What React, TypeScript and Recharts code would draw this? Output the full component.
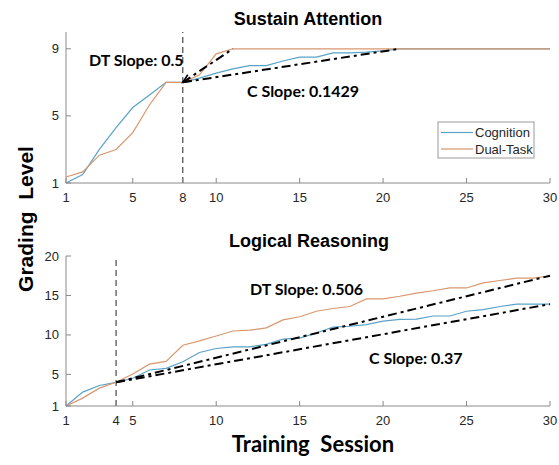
import React from "react";
import { LineChart, Line, XAxis, YAxis, ReferenceLine } from "recharts";

// training sessions 1..30
const sessions = [
  1, 2, 3, 4, 5, 6, 7, 8, 9, 10, 11, 12, 13, 14, 15, 16, 17, 18, 19, 20, 21, 22, 23, 24, 25, 26, 27, 28, 29, 30,
];

// Sustain Attention
const saCognition = [
  1.0, 1.5, 3.0, 4.3, 5.5, 6.25, 7.0, 7.0, 7.25, 7.55, 7.8, 8.0, 8.0, 8.27, 8.5, 8.5, 8.75, 8.75, 8.8, 8.88, 9, 9, 9,
  9, 9, 9, 9, 9, 9, 9,
];
const saDualTask = [
  1.36, 1.66, 2.66, 3.0, 4.0, 5.65, 7.0, 7.0, 7.45, 8.7, 9, 9, 9, 9, 9, 9, 9, 9, 9, 9, 9, 9, 9, 9, 9, 9, 9, 9, 9, 9,
];
const saDtFit = [
  { session: 8, fit: 7 },
  { session: 11, fit: 9 },
];
const saCFit = [
  { session: 8, fit: 7 },
  { session: 21, fit: 9 },
];

// Logical Reasoning
const lrCognition = [
  1.0, 2.76, 3.6, 4.0, 4.52, 5.56, 5.77, 6.6, 7.78, 8.28, 8.5, 8.5, 8.8, 9.46, 9.6, 10.25, 11.0, 11.1, 11.3, 11.76,
  11.97, 12.0, 12.4, 12.4, 13.0, 13.2, 13.6, 13.9, 13.9, 13.9,
];
const lrDualTask = [
  1.0, 2.0, 3.26, 4.0, 5.06, 6.3, 6.65, 8.7, 9.25, 9.87, 10.5, 10.6, 10.9, 11.9, 12.3, 13.0, 13.35, 13.6, 14.56,
  14.56, 14.9, 15.3, 15.6, 15.95, 15.95, 16.6, 16.9, 17.2, 17.2, 17.5,
];
const lrDtFit = [
  { session: 4, fit: 4 },
  { session: 30, fit: 17.5 },
];
const lrCFit = [
  { session: 4, fit: 4 },
  { session: 30, fit: 13.9 },
];

const saXTicks = [1, 5, 8, 10, 15, 20, 25, 30];
const lrXTicks = [1, 4, 5, 10, 15, 20, 25, 30];
const saYTicks = [1, 5, 9];
const lrYTicks = [1, 5, 10, 15, 20];

const seriesNames = ["Cognition", "Dual-Task"];
const seriesColors = ["#5aa2c8", "#d9976f"];

const axisColor = "#8a8a8a";
const textColor = "#262626";
const tickFont = "'Liberation Sans', Arial, sans-serif";
const calibri = "Lato, 'Noto Sans', sans-serif";

const BottomTick = (p: any) => (
  <g>
    <line x1={p.x} x2={p.x} y1={p.y} y2={p.y - 5} stroke={axisColor} />
    <text x={p.x} y={p.y + 14} textAnchor="middle" dominantBaseline="central" fontSize={13} fontFamily={tickFont} fill={textColor}>
      {p.payload.value}
    </text>
  </g>
);
const TopTick = (p: any) => <line x1={p.x} x2={p.x} y1={p.y} y2={p.y + 5} stroke={axisColor} />;
const LeftTick = (p: any) => (
  <g>
    <line x1={p.x} x2={p.x + 5} y1={p.y} y2={p.y} stroke={axisColor} />
    <text x={p.x - 7} y={p.y} textAnchor="end" dominantBaseline="central" fontSize={13} fontFamily={tickFont} fill={textColor}>
      {p.payload.value}
    </text>
  </g>
);
const RightTick = (p: any) => <line x1={p.x} x2={p.x - 5} y1={p.y} y2={p.y} stroke={axisColor} />;

// arrow head at the start of a fit line, pointing at the break point
const ArrowDot = (p: any) => {
  const pts = p.points;
  if (p.index !== 0 || !pts || pts.length < 2) return <g key={p.key} />;
  const ang = Math.atan2(pts[1].y - p.cy, pts[1].x - p.cx);
  const len = 9;
  const s = 0.4;
  const d = `M${p.cx + len * Math.cos(ang + s)},${p.cy + len * Math.sin(ang + s)} L${p.cx},${p.cy} L${
    p.cx + len * Math.cos(ang - s)
  },${p.cy + len * Math.sin(ang - s)}`;
  return <path key={p.key} d={d} stroke="#000" strokeWidth={1.6} fill="none" />;
};

type PanelProps = {
  top: number;
  height: number;
  margin: { top: number; right: number; bottom: number; left: number };
  cognition: number[];
  dualTask: number[];
  dtFit: { session: number; fit: number }[];
  cFit: { session: number; fit: number }[];
  xTicks: number[];
  yTicks: number[];
  yDomain: [number, number];
  markX: number;
  arrow: boolean;
};

const Panel = ({ top, height, margin, cognition, dualTask, dtFit, cFit, xTicks, yTicks, yDomain, markX, arrow }: PanelProps) => {
  const data = sessions.map((s, i) => ({ session: s, cognition: cognition[i], dualTask: dualTask[i] }));
  return (
    <div style={{ position: "absolute", left: 0, top }}>
      <LineChart width={559} height={height} data={data} margin={margin}>
        <XAxis
          dataKey="session"
          type="number"
          domain={[1, 30]}
          ticks={xTicks}
          interval={0}
          tickSize={0}
          tickMargin={0}
          tickLine={false}
          stroke={axisColor}
          height={20}
          tick={BottomTick}
        />
        <XAxis
          xAxisId="top"
          orientation="top"
          dataKey="session"
          type="number"
          domain={[1, 30]}
          ticks={xTicks}
          interval={0}
          tickSize={0}
          tickMargin={0}
          tickLine={false}
          stroke={axisColor}
          height={0}
          tick={TopTick}
        />
        <YAxis
          type="number"
          domain={yDomain}
          ticks={yTicks}
          interval={0}
          tickSize={0}
          tickMargin={0}
          tickLine={false}
          stroke={axisColor}
          width={30}
          tick={LeftTick}
        />
        <YAxis
          yAxisId="right"
          orientation="right"
          type="number"
          domain={yDomain}
          ticks={yTicks}
          interval={0}
          tickSize={0}
          tickMargin={0}
          tickLine={false}
          stroke={axisColor}
          width={0}
          tick={RightTick}
        />
        <ReferenceLine x={markX} stroke="#222" strokeWidth={1} strokeDasharray="6 4" />
        <Line dataKey="cognition" name={seriesNames[0]} stroke={seriesColors[0]} strokeWidth={1.2} dot={false} isAnimationActive={false} />
        <Line dataKey="dualTask" name={seriesNames[1]} stroke={seriesColors[1]} strokeWidth={1.2} dot={false} isAnimationActive={false} />
        <Line
          data={dtFit}
          dataKey="fit"
          stroke="#000"
          strokeWidth={2}
          strokeDasharray="9 4 3 4"
          dot={arrow ? ArrowDot : false}
          isAnimationActive={false}
        />
        <Line data={cFit} dataKey="fit" stroke="#000" strokeWidth={2} strokeDasharray="9 4 3 4" dot={false} isAnimationActive={false} />
      </LineChart>
    </div>
  );
};

export default function App() {
  return (
    <div style={{ position: "absolute", left: 0, top: 0, width: 559, height: 465, background: "#fff", overflow: "hidden" }}>
      <Panel
        top={0}
        height={210}
        margin={{ top: 32, right: 9, bottom: 7, left: 36 }}
        cognition={saCognition}
        dualTask={saDualTask}
        dtFit={saDtFit}
        cFit={saCFit}
        xTicks={saXTicks}
        yTicks={saYTicks}
        yDomain={[1, 10]}
        markX={8}
        arrow={true}
      />
      <Panel
        top={220}
        height={225}
        margin={{ top: 36, right: 9, bottom: 19, left: 36 }}
        cognition={lrCognition}
        dualTask={lrDualTask}
        dtFit={lrDtFit}
        cFit={lrCFit}
        xTicks={lrXTicks}
        yTicks={lrYTicks}
        yDomain={[1, 20]}
        markX={4}
        arrow={false}
      />
      <svg width={559} height={465} style={{ position: "absolute", left: 0, top: 0, pointerEvents: "none" }}>
        <text x={308} y={25} textAnchor="middle" fontSize={18} fontWeight="bold" fontFamily={tickFont} fill="#000">
          Sustain Attention
        </text>
        <text x={309} y={247} textAnchor="middle" fontSize={18} fontWeight="bold" fontFamily={tickFont} fill="#000">
          Logical Reasoning
        </text>
        <text x={89} y={66} fontSize={16} fontWeight="bold" fontFamily={calibri} fill="#000">
          DT Slope: 0.5
        </text>
        <text x={247} y={97} fontSize={16} fontWeight="bold" fontFamily={calibri} fill="#000">
          C Slope: 0.1429
        </text>
        <text x={250} y={295} fontSize={16} fontWeight="bold" fontFamily={calibri} fill="#000">
          DT Slope: 0.506
        </text>
        <text x={369} y={364} fontSize={16} fontWeight="bold" fontFamily={calibri} fill="#000">
          C Slope: 0.37
        </text>
        <text x={313} y={452} textAnchor="middle" fontSize={22} fontWeight="bold" fontFamily={calibri} fill="#000" style={{ whiteSpace: "pre" }}>
          {"Training  Session"}
        </text>
        <text
          x={0}
          y={0}
          transform="translate(25 219) rotate(-90)"
          textAnchor="middle"
          dominantBaseline="central"
          fontSize={21}
          fontWeight="bold"
          fontFamily={tickFont}
          fill="#000"
          style={{ whiteSpace: "pre" }}
        >
          {"Grading  Level"}
        </text>
        <g>
          <rect x={438} y={122} width={96} height={36} fill="#fff" stroke="#9a9a9a" strokeWidth={1} />
          {seriesNames.map((name, i) => (
            <g key={name}>
              <line x1={441} x2={473} y1={132.5 + i * 16.5} y2={132.5 + i * 16.5} stroke={seriesColors[i]} strokeWidth={1.2} />
              <text x={475} y={132.5 + i * 16.5} dominantBaseline="central" fontSize={13} fontFamily={tickFont} fill={textColor}>
                {name}
              </text>
            </g>
          ))}
        </g>
      </svg>
    </div>
  );
}
